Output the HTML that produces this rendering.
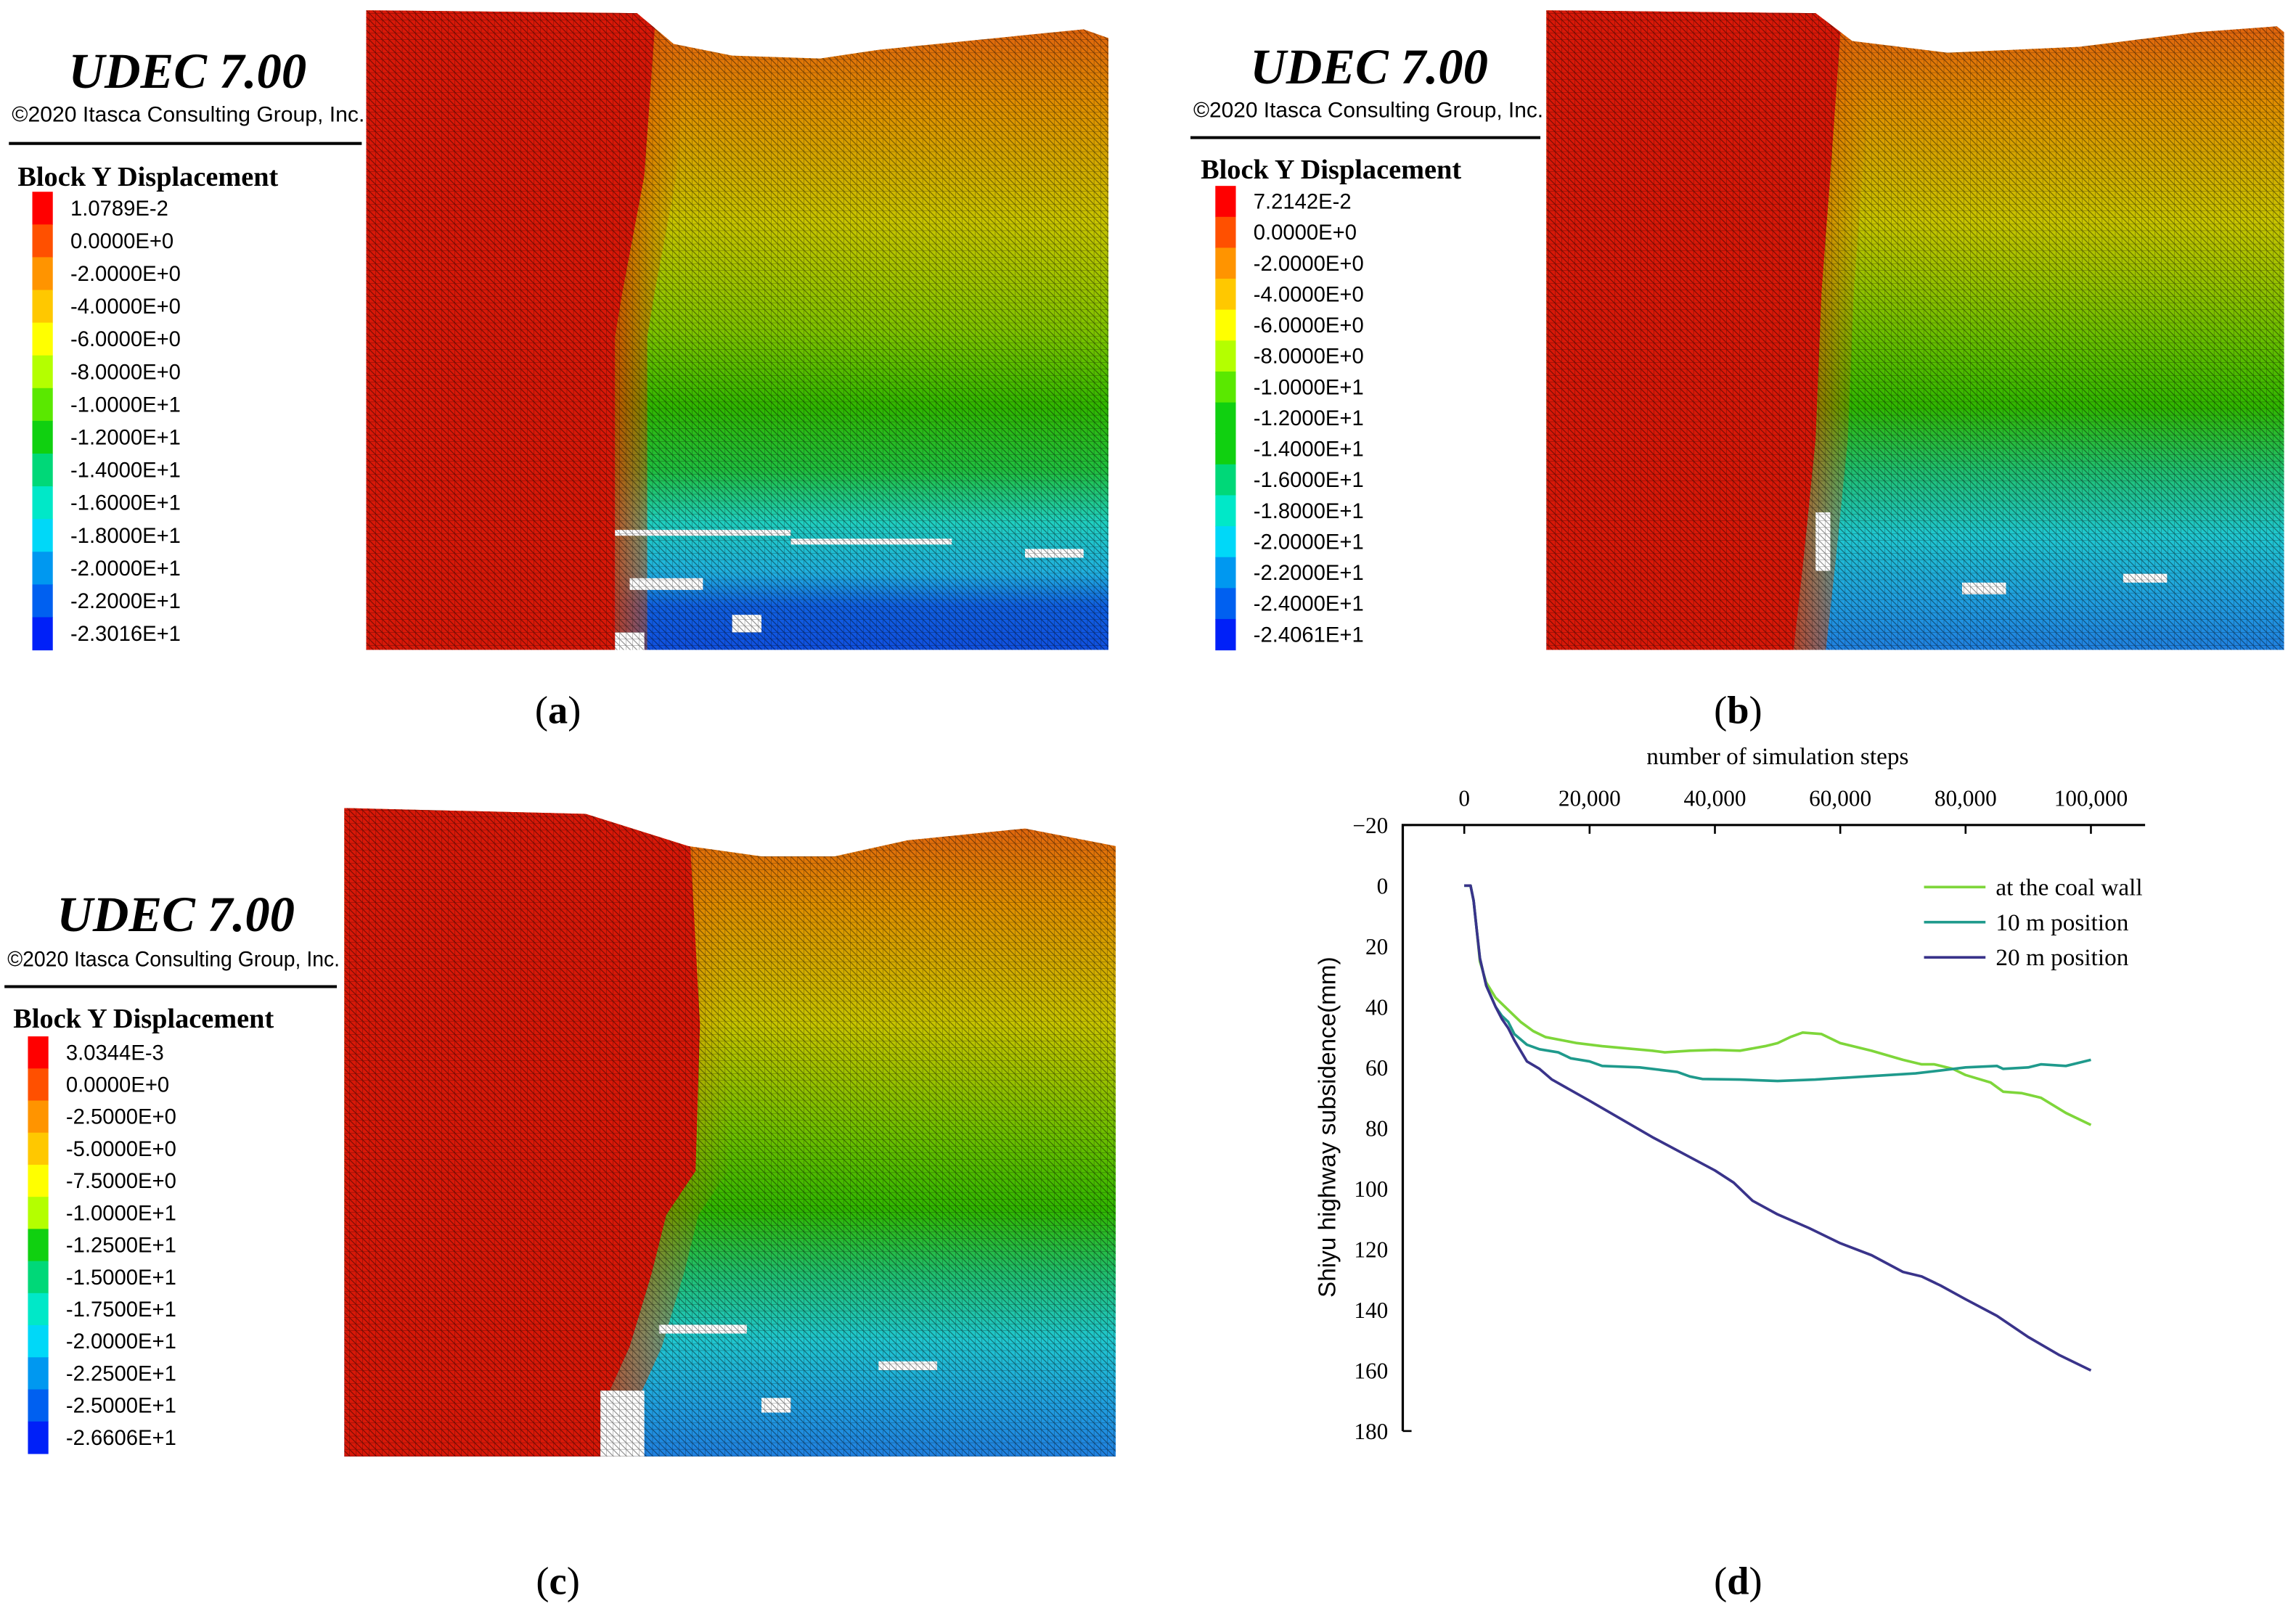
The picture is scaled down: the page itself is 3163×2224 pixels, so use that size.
<!DOCTYPE html>
<html><head><meta charset="utf-8"><style>
html,body{margin:0;padding:0;background:#fff}
svg{display:block}
</style></head><body>
<svg id="root" width="3163" height="2224" viewBox="0 0 1568 1102.6" xmlns="http://www.w3.org/2000/svg">
<defs>
<pattern id="mesh" width="4.5" height="4.5" patternUnits="userSpaceOnUse">
<path d="M0 0H4.5M0 0V4.5M0 0L4.5 4.5" stroke="#000" stroke-width="0.5" stroke-opacity="0.5" fill="none"/>
</pattern>
<linearGradient id="gA" x1="0" y1="0" x2="0" y2="1">
<stop offset="0" stop-color="#e05a10"/><stop offset="0.15" stop-color="#e09000"/><stop offset="0.33" stop-color="#c8c400"/><stop offset="0.5" stop-color="#80c400"/><stop offset="0.62" stop-color="#30b800"/><stop offset="0.72" stop-color="#20c040"/><stop offset="0.8" stop-color="#20d0c0"/><stop offset="0.88" stop-color="#20b0e0"/><stop offset="0.93" stop-color="#1060e0"/><stop offset="1" stop-color="#1050e0"/>
</linearGradient>
<linearGradient id="gB" x1="0" y1="0" x2="0" y2="1">
<stop offset="0" stop-color="#e05a10"/><stop offset="0.15" stop-color="#e09000"/><stop offset="0.33" stop-color="#c8c400"/><stop offset="0.5" stop-color="#70c000"/><stop offset="0.62" stop-color="#30b800"/><stop offset="0.72" stop-color="#20c070"/><stop offset="0.82" stop-color="#20c8d0"/><stop offset="0.92" stop-color="#20a0e0"/><stop offset="1" stop-color="#2080e0"/>
</linearGradient>
<linearGradient id="edge" x1="0" y1="0" x2="1" y2="0">
<stop offset="0" stop-color="#e03a00" stop-opacity="0.8"/><stop offset="1" stop-color="#e07000" stop-opacity="0"/>
</linearGradient>
</defs>
<g id="models"></g>
<g id="legends"></g>
<g id="chart"></g>
<g font-family="Liberation Serif, serif" font-size="27" text-anchor="middle">
<text x="381" y="494">(<tspan font-weight="bold">a</tspan>)</text>
<text x="1187" y="494">(<tspan font-weight="bold">b</tspan>)</text>
<text x="381" y="1089">(<tspan font-weight="bold">c</tspan>)</text>
<text x="1187" y="1089">(<tspan font-weight="bold">d</tspan>)</text>
</g>
</svg>
<script>
const NS="http://www.w3.org/2000/svg";
function el(p,tag,attrs,txt){const e=document.createElementNS(NS,tag);for(const k in attrs)e.setAttribute(k,attrs[k]);if(txt!==undefined)e.textContent=txt;p.appendChild(e);return e;}

// ---------- models ----------
const models=document.getElementById('models');
function model(name,x0,y0,x1,y1,top,red,grad,gaps){
  const g=el(models,'g',{});
  
  
  const outline='M'+x0+' '+y1+' L'+top.map(p=>p.join(' ')).join(' L')+' L'+x1+' '+y1+' Z';
  const cid=name+'-clip';
  const cp=el(el(g,'defs',{}),'clipPath',{id:cid});
  el(cp,'path',{d:outline});
  const inner=el(g,'g',{'clip-path':'url(#'+cid+')'});
  el(inner,'rect',{x:x0,y:y0,width:x1-x0,height:y1-y0,fill:'url(#'+grad+')'});
  const rp=red.map(p=>p.join(' ')).join(' L');
  const shifted=red.slice().reverse().map(p=>[p[0]+22,p[1]]);
  el(inner,'path',{d:'M'+rp+' L'+shifted.map(p=>p.join(' ')).join(' L')+' Z',fill:'url(#edge)'});
  el(inner,'path',{d:'M'+x0+' '+y0+' L'+rp+' L'+x0+' '+y1+' Z',fill:'#d81808'});
  gaps.forEach(r=>el(inner,'rect',{x:r[0],y:r[1],width:r[2],height:r[3],fill:'#fff'}));
  el(inner,'rect',{x:x0,y:y0,width:x1-x0,height:y1-y0,fill:'url(#mesh)'});
}
model('model-a',250,7,757,444,
 [[250,7],[435,9],[460,30],[500,38],[560,40],[600,34],[660,28],[740,20],[757,26]],
 [[448,7],[440,120],[425,200],[420,230],[420,444]],'gA',
 [[420,362,120,4],[540,368,110,4],[430,395,50,8],[500,420,20,12],[700,375,40,6],[420,432,20,12]]);
model('model-b',1056,7,1560,444,
 [[1056,7],[1240,9],[1265,28],[1330,36],[1420,32],[1500,22],[1555,18],[1560,22]],
 [[1258,7],[1250,120],[1244,200],[1240,300],[1232,380],[1225,444]],'gB',
 [[1240,350,10,40],[1340,398,30,8],[1450,392,30,6]]);
model('model-c',235,552,762,995,
 [[235,552],[400,556],[470,578],[520,585],[570,585],[620,574],[700,566],[762,578]],
 [[470,552],[478,700],[475,800],[455,830],[445,870],[430,920],[412,960],[410,995]],'gB',
 [[410,950,30,45],[450,905,60,6],[600,930,40,6],[520,955,20,10]]);

// ---------- legends ----------
const legs=document.getElementById('legends');
const labelsA=['1.0789E-2','0.0000E+0','-2.0000E+0','-4.0000E+0','-6.0000E+0','-8.0000E+0','-1.0000E+1','-1.2000E+1','-1.4000E+1','-1.6000E+1','-1.8000E+1','-2.0000E+1','-2.2000E+1','-2.3016E+1'];
const labelsB=['7.2142E-2','0.0000E+0','-2.0000E+0','-4.0000E+0','-6.0000E+0','-8.0000E+0','-1.0000E+1','-1.2000E+1','-1.4000E+1','-1.6000E+1','-1.8000E+1','-2.0000E+1','-2.2000E+1','-2.4000E+1','-2.4061E+1'];
const labelsC=['3.0344E-3','0.0000E+0','-2.5000E+0','-5.0000E+0','-7.5000E+0','-1.0000E+1','-1.2500E+1','-1.5000E+1','-1.7500E+1','-2.0000E+1','-2.2500E+1','-2.5000E+1','-2.6606E+1'];
const palette=['#ff0000','#ff5000','#ff9400','#ffc800','#ffff00','#b4ff00','#5ae800','#10d010','#00d878','#00e8c8','#00d8f8','#0098f0','#0060f0','#0020f8'];
function legend(name,udecX,udecY,copyY,lineX1,lineX2,lineY,blockX,blockY,barX,barY0,barY1,labels){
  const g=el(legs,'g',{});
  
  
  el(g,'text',{x:udecX,y:udecY,'font-family':'Liberation Serif, serif','font-size':34,'font-weight':'bold','font-style':'italic','text-anchor':'middle'},'UDEC 7.00');
  el(g,'text',{x:lineX1+2,y:copyY,'font-family':'Liberation Sans, sans-serif','font-size':14.5,textLength:lineX2-lineX1,lengthAdjust:'spacingAndGlyphs'},'©2020 Itasca Consulting Group, Inc.');
  el(g,'line',{x1:lineX1,x2:lineX2,y1:lineY,y2:lineY,stroke:'#000','stroke-width':2});
  el(g,'text',{x:blockX,y:blockY,'font-family':'Liberation Serif, serif','font-size':19,'font-weight':'bold'},'Block Y Displacement');
  const n=labels.length,h=(barY1-barY0)/n;
  for(let i=0;i<n;i++){
    const ci=Math.round(i*(palette.length-1)/(n-1));
    el(g,'rect',{x:barX,y:barY0+i*h,width:14,height:h+0.3,fill:palette[ci]});
    el(g,'text',{x:barX+26,y:barY0+i*h+h/2+5,'font-family':'Liberation Sans, sans-serif','font-size':14.5},labels[i]);
  }
}
legend('legend-a',128,60,83,6,247,98,12,127,22,131,444,labelsA);
legend('legend-b',935,57,80,813,1052,94,820,122,830,127,444,labelsB);
legend('legend-c',120,636,660,3,230,674,9,702,19,708,993,labelsC);

// ---------- chart (d) ----------
const steps=[0,1000,1500,2000,2500,3500,5000,7000,9000,11000,13000,18000,22000,30000,32000,36000,40000,44000,48000,50000,52000,54000,57000,60000,65000,70000,73000,75000,78000,80000,84000,86000,89000,92000,96000,100000];
const coalWall=[0,0,5,15,25,32,37,41,45,48,50,52,53,54.5,55,54.5,54.2,54.5,53,52,50,48.5,49,52,54.5,57.5,59,59,60.5,62.5,65,68,68.5,70,75,79];
const steps10=[0,1000,1500,2000,2500,3500,5000,6000,7000,8000,10000,12000,15000,17000,20000,22000,28000,34000,36000,38000,44000,50000,56000,64000,72000,76000,80000,85000,86000,90000,92000,96000,98000,100000];
const pos10=[0,0,5,15,24,33,40,43,45,49,52.5,54,55,57,58,59.5,60,61.5,63,63.8,64,64.5,64,63,62,61,60,59.5,60.5,60,59,59.5,58.5,57.5];
const steps20=[0,1000,1500,2000,2500,3500,5000,6000,7000,8000,10000,12000,14000,20000,30000,40000,43000,46000,50000,55000,60000,65000,70000,73000,76000,80000,85000,90000,95000,100000];
const pos20=[0,0,5,15,24,33,40,44,47,51,58,60.5,64,71,83,94,98,104,108.5,113,118,122,127.5,129,132,136.5,142,149,155,160];
const xTicks=[0,20000,40000,60000,80000,100000];
const xTickLabels=['0','20,000','40,000','60,000','80,000','100,000'];
const yTicks=[-20,0,20,40,60,80,100,120,140,160,180];
const yTickLabels=['\u221220','0','20','40','60','80','100','120','140','160','180'];
const seriesNames=['at the coal wall','10 m position','20 m position'];
const seriesColors=['#7ed63a','#1f9a8c','#39338a'];

const X=v=>1000+v*(428/100000);
const Y=v=>605+v*(414/200);
const ch=document.getElementById('chart');
const F='Liberation Serif, serif';
const axL=958, axR=1465, axT=Y(-20), axB=Y(180);
const ax=el(ch,'path',{d:`M${axL} ${axB}V${axT}H${axR}`,fill:'none',stroke:'#000','stroke-width':1.6});


xTicks.forEach((v,i)=>{
  el(ch,'line',{x1:X(v),x2:X(v),y1:axT,y2:axT+6,stroke:'#000','stroke-width':1.3});
  const t=el(ch,'text',{x:X(v),y:axT-13,'font-family':F,'font-size':15.5,'text-anchor':'middle'},xTickLabels[i]);
  
  
});
yTicks.forEach((v,i)=>{
  if(i===0||i===yTicks.length-1) el(ch,'line',{x1:axL,x2:axL+6,y1:Y(v),y2:Y(v),stroke:'#000','stroke-width':1.3});
  const t=el(ch,'text',{x:948,y:Y(v)+5.5,'font-family':F,'font-size':15.5,'text-anchor':'end'},yTickLabels[i]);
  
  
});
const xt=el(ch,'text',{x:1214,y:522,'font-family':F,'font-size':16.5,'text-anchor':'middle'},'number of simulation steps');


const yt=el(ch,'text',{x:0,y:0,transform:'translate(912 770) rotate(-90)','font-family':'Liberation Sans, sans-serif','font-size':16.5,'text-anchor':'middle'},'Shiyu highway subsidence(mm)');



const data=[[steps,coalWall],[steps10,pos10],[steps20,pos20]];
const lineNames=['line-coal-wall','line-10m','line-20m'];
data.forEach((s,k)=>{
  const d=s[0].map((x,i)=>(i?'L':'M')+X(x).toFixed(1)+' '+Y(s[1][i]).toFixed(1)).join(' ');
  const p=el(ch,'path',{d:d,fill:'none',stroke:seriesColors[k],'stroke-width':1.8,'stroke-linejoin':'round'});
  
  
});
seriesNames.forEach((n,k)=>{
  const g=el(ch,'g',{});
  
  
  const yy=606+k*24;
  el(g,'line',{x1:1314,x2:1356,y1:yy,y2:yy,stroke:seriesColors[k],'stroke-width':1.8});
  el(g,'text',{x:1363,y:yy+5.5,'font-family':F,'font-size':16.5},n);
});
</script>
</body></html>
